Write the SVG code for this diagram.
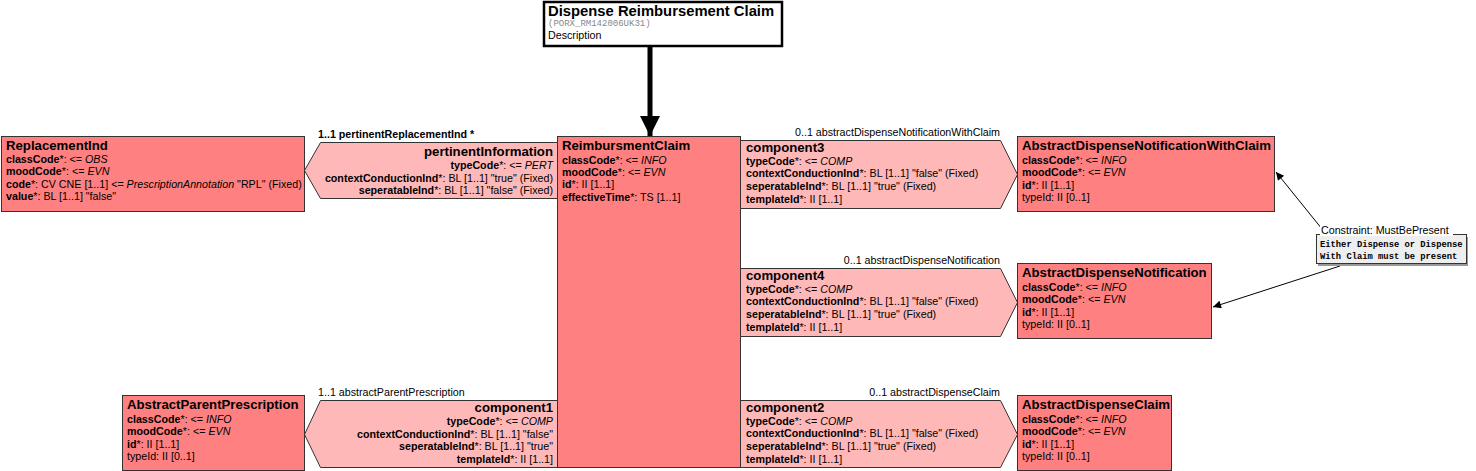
<svg xmlns="http://www.w3.org/2000/svg" width="1476" height="471" viewBox="0 0 1476 471">
<defs>
<marker id="ah" viewBox="0 0 10 10" refX="10" refY="5" markerWidth="10" markerHeight="8" markerUnits="userSpaceOnUse" orient="auto"><path d="M0,0 L10,5 L0,10 z" fill="#000"/></marker>
<marker id="big" viewBox="0 0 10 10" refX="10" refY="5" markerWidth="4" markerHeight="4" orient="auto"><path d="M0,0 L10,5 L0,10 z" fill="#000"/></marker>
<style>
text{font-family:"Liberation Sans",Arial,sans-serif;font-size:10.7px;fill:#000}
.t{font-size:13.2px;font-weight:bold}
.b{font-weight:bold}
.i{font-style:italic}
.r{text-anchor:end}
.cls{fill:#FF8080;stroke:#333;stroke-width:1}
.rel{fill:#FFB8B8;stroke:#333;stroke-width:1}
.mono{font-family:"Liberation Mono","Courier New",monospace}
</style>
</defs>
<g id="connectors">
<line x1="650" y1="46" x2="650" y2="136" stroke="#000" stroke-width="5" marker-end="url(#big)"/>
<line x1="1322" y1="229" x2="1276" y2="172" stroke="#000" stroke-width="1" marker-end="url(#ah)"/>
<line x1="1340" y1="266" x2="1213" y2="307" stroke="#000" stroke-width="1" marker-end="url(#ah)"/>
</g>
<g id="header">
<rect x="544" y="2" width="238" height="44" fill="#fff" stroke="#000" stroke-width="2.5"/>
<text x="548" y="16" class="b" style="font-size:14.8px">Dispense Reimbursement Claim</text>
<text x="548" y="26" class="mono" style="font-size:9px;fill:#888">(PORX_RM142006UK31)</text>
<text x="548" y="39">Description</text>
</g>
<g id="ReimbursmentClaim">
<rect class="cls" x="557.5" y="136.5" width="183" height="331"/>
<text x="562" y="150" class="t">ReimbursmentClaim</text>
<text x="562" y="164"><tspan class="b">classCode</tspan>*: &lt;= <tspan class="i">INFO</tspan></text>
<text x="562" y="176"><tspan class="b">moodCode</tspan>*: &lt;= <tspan class="i">EVN</tspan></text>
<text x="562" y="188"><tspan class="b">id</tspan>*: II [1..1]</text>
<text x="562" y="201"><tspan class="b">effectiveTime</tspan>*: TS [1..1]</text>
</g>
<g id="ReplacementInd">
<rect class="cls" x="1.5" y="136.5" width="303" height="75"/>
<text x="6" y="150" class="t">ReplacementInd</text>
<text x="6" y="163"><tspan class="b">classCode</tspan>*: &lt;= <tspan class="i">OBS</tspan></text>
<text x="6" y="175"><tspan class="b">moodCode</tspan>*: &lt;= <tspan class="i">EVN</tspan></text>
<text x="6" y="188"><tspan class="b">code</tspan>*: CV CNE [1..1] &lt;= <tspan class="i">PrescriptionAnnotation</tspan> "RPL" (Fixed)</text>
<text x="6" y="200"><tspan class="b">value</tspan>*: BL [1..1] "false"</text>
</g>
<g id="pertinentInformation">
<polygon class="rel" points="557.5,142.5 320.5,142.5 304.5,170.5 320.5,198.5 557.5,198.5"/>
<text x="318" y="138" class="b">1..1 pertinentReplacementInd  *</text>
<text x="553" y="156" class="t r">pertinentInformation</text>
<text x="553" y="169" class="r"><tspan class="b">typeCode</tspan>*: &lt;= <tspan class="i">PERT</tspan></text>
<text x="553" y="182" class="r"><tspan class="b">contextConductionInd</tspan>*: BL [1..1] "true" (Fixed)</text>
<text x="553" y="194" class="r"><tspan class="b">seperatableInd</tspan>*: BL [1..1] "false" (Fixed)</text>
</g>
<g id="component3">
<polygon class="rel" points="740.5,140.5 1000.5,140.5 1017.5,174.5 1000.5,208.5 740.5,208.5"/>
<text x="1000" y="136" class="r">0..1 abstractDispenseNotificationWithClaim</text>
<text x="746" y="152" class="t">component3</text>
<text x="746" y="165"><tspan class="b">typeCode</tspan>*: &lt;= <tspan class="i">COMP</tspan></text>
<text x="746" y="177"><tspan class="b">contextConductionInd</tspan>*: BL [1..1] "false" (Fixed)</text>
<text x="746" y="190"><tspan class="b">seperatableInd</tspan>*: BL [1..1] "true" (Fixed)</text>
<text x="746" y="203"><tspan class="b">templateId</tspan>*: II [1..1]</text>
</g>
<g id="AbstractDispenseNotificationWithClaim">
<rect class="cls" x="1017.5" y="136.5" width="257" height="75"/>
<text x="1022" y="150" class="t">AbstractDispenseNotificationWithClaim</text>
<text x="1022" y="164"><tspan class="b">classCode</tspan>*: &lt;= <tspan class="i">INFO</tspan></text>
<text x="1022" y="176"><tspan class="b">moodCode</tspan>*: &lt;= <tspan class="i">EVN</tspan></text>
<text x="1022" y="189"><tspan class="b">id</tspan>*: II [1..1]</text>
<text x="1022" y="201">typeId: II [0..1]</text>
</g>
<g id="Constraint">
<rect x="1318" y="237" width="150" height="29" fill="#999"/>
<rect x="1316.5" y="234.5" width="150" height="29" fill="#EEEEEE" stroke="#333" stroke-width="1"/>
<rect x="1320" y="225" width="133" height="11" fill="#fff"/>
<text x="1321" y="234">Constraint: MustBePresent</text>
<text x="1320" y="247" class="mono b" style="font-size:8.8px">Either Dispense or Dispense</text>
<text x="1320" y="259" class="mono b" style="font-size:8.8px">With Claim must be present</text>
</g>
<g id="component4">
<polygon class="rel" points="740.5,268.5 1000.5,268.5 1017.5,302.5 1000.5,336.5 740.5,336.5"/>
<text x="1000" y="264" class="r">0..1 abstractDispenseNotification</text>
<text x="746" y="280" class="t">component4</text>
<text x="746" y="293"><tspan class="b">typeCode</tspan>*: &lt;= <tspan class="i">COMP</tspan></text>
<text x="746" y="305"><tspan class="b">contextConductionInd</tspan>*: BL [1..1] "false" (Fixed)</text>
<text x="746" y="318"><tspan class="b">seperatableInd</tspan>*: BL [1..1] "true" (Fixed)</text>
<text x="746" y="331"><tspan class="b">templateId</tspan>*: II [1..1]</text>
</g>
<g id="AbstractDispenseNotification">
<rect class="cls" x="1017.5" y="263.5" width="194" height="75"/>
<text x="1022" y="277" class="t">AbstractDispenseNotification</text>
<text x="1022" y="291"><tspan class="b">classCode</tspan>*: &lt;= <tspan class="i">INFO</tspan></text>
<text x="1022" y="303"><tspan class="b">moodCode</tspan>*: &lt;= <tspan class="i">EVN</tspan></text>
<text x="1022" y="316"><tspan class="b">id</tspan>*: II [1..1]</text>
<text x="1022" y="328">typeId: II [0..1]</text>
</g>
<g id="component1">
<polygon class="rel" points="557.5,400.5 320.5,400.5 304.5,434.5 320.5,467.5 557.5,467.5"/>
<text x="318" y="396">1..1 abstractParentPrescription</text>
<text x="553" y="412" class="t r">component1</text>
<text x="553" y="425" class="r"><tspan class="b">typeCode</tspan>*: &lt;= <tspan class="i">COMP</tspan></text>
<text x="553" y="438" class="r"><tspan class="b">contextConductionInd</tspan>*: BL [1..1] "false"</text>
<text x="553" y="450" class="r"><tspan class="b">seperatableInd</tspan>*: BL [1..1] "true"</text>
<text x="553" y="463" class="r"><tspan class="b">templateId</tspan>*: II [1..1]</text>
</g>
<g id="AbstractParentPrescription">
<rect class="cls" x="122.5" y="395.5" width="182" height="75"/>
<text x="127" y="409" class="t">AbstractParentPrescription</text>
<text x="127" y="423"><tspan class="b">classCode</tspan>*: &lt;= <tspan class="i">INFO</tspan></text>
<text x="127" y="435"><tspan class="b">moodCode</tspan>*: &lt;= <tspan class="i">EVN</tspan></text>
<text x="127" y="448"><tspan class="b">id</tspan>*: II [1..1]</text>
<text x="127" y="460">typeId: II [0..1]</text>
</g>
<g id="component2">
<polygon class="rel" points="740.5,400.5 1000.5,400.5 1017.5,434.5 1000.5,467.5 740.5,467.5"/>
<text x="1000" y="396" class="r">0..1 abstractDispenseClaim</text>
<text x="746" y="412" class="t">component2</text>
<text x="746" y="425"><tspan class="b">typeCode</tspan>*: &lt;= <tspan class="i">COMP</tspan></text>
<text x="746" y="437"><tspan class="b">contextConductionInd</tspan>*: BL [1..1] "false" (Fixed)</text>
<text x="746" y="450"><tspan class="b">seperatableInd</tspan>*: BL [1..1] "true" (Fixed)</text>
<text x="746" y="463"><tspan class="b">templateId</tspan>*: II [1..1]</text>
</g>
<g id="AbstractDispenseClaim">
<rect class="cls" x="1017.5" y="395.5" width="154" height="75"/>
<text x="1022" y="409" class="t">AbstractDispenseClaim</text>
<text x="1022" y="423"><tspan class="b">classCode</tspan>*: &lt;= <tspan class="i">INFO</tspan></text>
<text x="1022" y="435"><tspan class="b">moodCode</tspan>*: &lt;= <tspan class="i">EVN</tspan></text>
<text x="1022" y="448"><tspan class="b">id</tspan>*: II [1..1]</text>
<text x="1022" y="460">typeId: II [0..1]</text>
</g>
</svg>
